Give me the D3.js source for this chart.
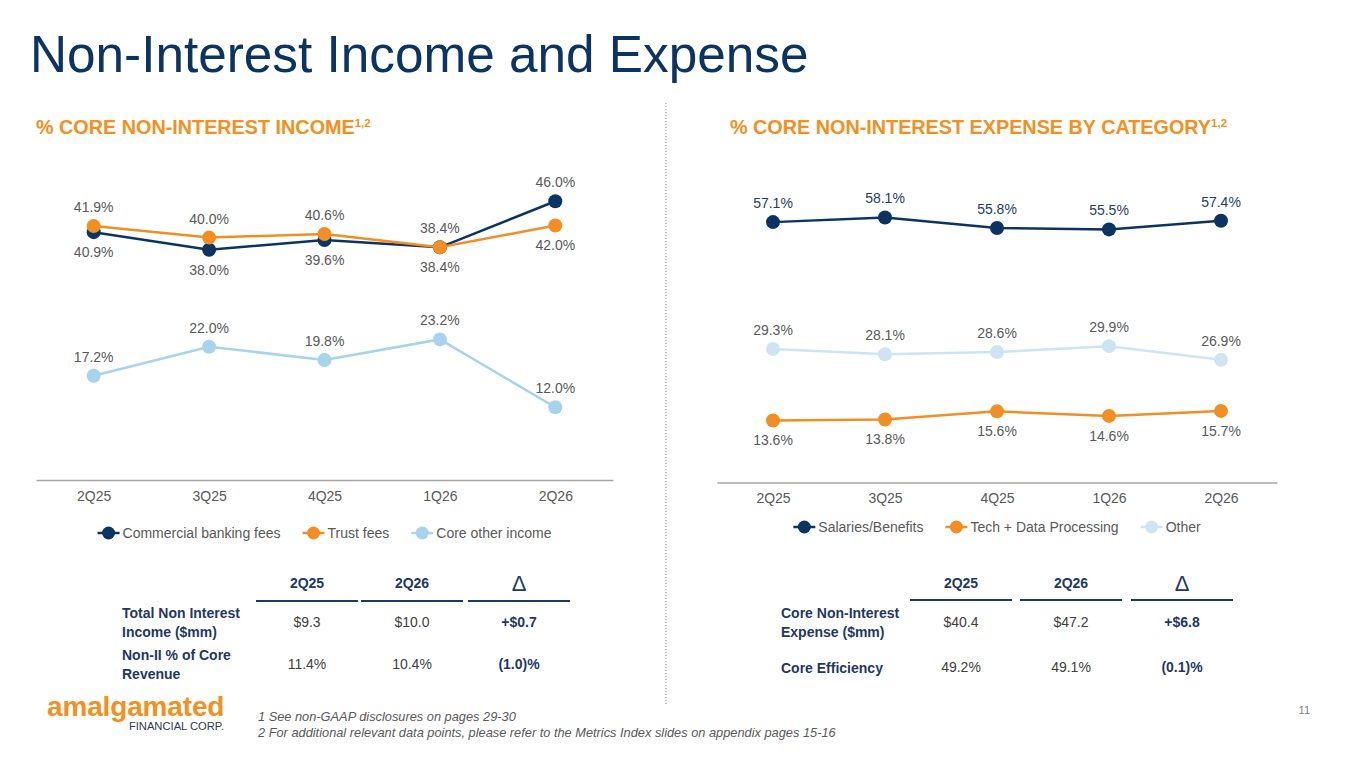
<!DOCTYPE html>
<html>
<head>
<meta charset="utf-8">
<script src="https://cdn.jsdelivr.net/npm/d3@7"></script>
<style>
  html, body { margin: 0; padding: 0; background: #fff; }
  svg { display: block; font-family: "Liberation Sans", Arial, sans-serif; }
</style>
</head>
<body>
<div id="chart"></div>
<script>
/* Non-interest income / expense slide, drawn with d3 */

var quarters = ['2Q25', '3Q25', '4Q25', '1Q26', '2Q26'];

// % core non-interest income
var commercialFees = [40.9, 38.0, 39.6, 38.4, 46.0];
var trustFees = [41.9, 40.0, 40.6, 38.4, 42.0];
var coreOtherIncome = [17.2, 22.0, 19.8, 23.2, 12.0];

// % core non-interest expense by category
var salariesBenefits = [57.1, 58.1, 55.8, 55.5, 57.4];
var techDataProcessing = [13.6, 13.8, 15.6, 14.6, 15.7];
var otherExpense = [29.3, 28.1, 28.6, 29.9, 26.9];

// summary tables
var tableColumns = ['2Q25', '2Q26', '\u0394'];
var incomeRowLabels = [['Total Non Interest', 'Income ($mm)'], ['Non-II % of Core', 'Revenue']];
var incomeRowValues = [['$9.3', '$10.0', '+$0.7'], ['11.4%', '10.4%', '(1.0)%']];
var expenseRowLabels = [['Core Non-Interest', 'Expense ($mm)'], ['Core Efficiency']];
var expenseRowValues = [['$40.4', '$47.2', '+$6.8'], ['49.2%', '49.1%', '(0.1)%']];

var footnotes = [
  '1 See non-GAAP disclosures on pages 29-30',
  '2 For additional relevant data points, please refer to the Metrics Index slides on appendix pages 15-16'
];

var NAVY = '#0b3463';
var ORANGE = '#f39020';
var GREY = '#595959';
var TABLE_NAVY = '#1f3864';

var width = 1365;
var height = 768;

var svg = d3.select('#chart').append('svg')
  .attr('width', width)
  .attr('height', height);

svg.append('text')
  .attr('x', 30)
  .attr('y', 72)
  .attr('font-size', 51.3)
  .attr('fill', NAVY)
  .text('Non-Interest Income and Expense');

function subtitle(x, label) {
  var t = svg.append('text')
    .attr('x', x)
    .attr('y', 134)
    .attr('font-size', 19.8)
    .attr('font-weight', 'bold')
    .attr('fill', ORANGE);
  t.append('tspan').text(label);
  t.append('tspan').attr('font-size', 11.5).attr('dy', -7).text('1,2');
}
subtitle(36, '% CORE NON-INTEREST INCOME');
subtitle(730, '% CORE NON-INTEREST EXPENSE BY CATEGORY');

// dotted divider between the two halves
svg.append('line')
  .attr('x1', 666).attr('x2', 666)
  .attr('y1', 103).attr('y2', 705)
  .attr('stroke', '#8c8c8c')
  .attr('stroke-width', 1)
  .attr('stroke-dasharray', '1,2');

function drawLineChart(cfg) {
  var x = d3.scalePoint()
    .domain(quarters)
    .range([cfg.left, cfg.right])
    .padding(0.5);
  var y = d3.scaleLinear()
    .domain([0, cfg.yMax])
    .range([cfg.base, cfg.top]);

  var axis = svg.append('g')
    .attr('transform', 'translate(0,' + cfg.base + ')')
    .call(d3.axisBottom(x).tickSize(0).tickSizeOuter(0).tickPadding(11));
  axis.select('.domain').attr('stroke', '#a6a6a6').attr('stroke-width', 1.3);
  axis.selectAll('text')
    .attr('font-size', 14)
    .attr('font-family', '"Liberation Sans", Arial, sans-serif')
    .attr('fill', GREY);

  var line = d3.line()
    .x(function(d, i) { return x(quarters[i]); })
    .y(function(d) { return y(d); });

  cfg.series.forEach(function(s) {
    var g = svg.append('g');
    g.append('path')
      .attr('d', line(s.values))
      .attr('fill', 'none')
      .attr('stroke', s.color)
      .attr('stroke-width', 2.5);
    g.selectAll('circle').data(s.values).enter()
      .append('circle')
      .attr('cx', function(d, i) { return x(quarters[i]); })
      .attr('cy', function(d) { return y(d); })
      .attr('r', 7)
      .attr('fill', s.color);
    g.selectAll('text').data(s.values).enter()
      .append('text')
      .attr('x', function(d, i) { return x(quarters[i]); })
      .attr('y', function(d, i) {
        var above = s.labelPos[i] === 'a';
        return y(d) + (above ? -19 : 20);
      })
      .attr('dy', '0.35em')
      .attr('text-anchor', 'middle')
      .attr('font-size', 14)
      .attr('fill', s.labelColor || GREY)
      .text(function(d) { return d.toFixed(1) + '%'; });
  });

  // legend: line + dot marker, centred under the chart
  var legend = svg.append('g');
  var cursor = 0;
  cfg.series.forEach(function(s, i) {
    var item = legend.append('g').attr('transform', 'translate(' + cursor + ',0)');
    item.append('line')
      .attr('x1', 0).attr('x2', 22)
      .attr('stroke', s.color)
      .attr('stroke-width', 2.5);
    item.append('circle').attr('cx', 11).attr('r', 6.5).attr('fill', s.color);
    var t = item.append('text')
      .attr('x', 25)
      .attr('dy', '0.35em')
      .attr('font-size', 14)
      .attr('fill', GREY)
      .text(s.name);
    cursor += 25 + t.node().getComputedTextLength() + 22;
  });
  cursor -= 22;
  legend.attr('transform', 'translate(' + ((cfg.left + cfg.right) / 2 - cursor / 2) + ',' + cfg.legendY + ')');
}

drawLineChart({
  left: 36, right: 613, base: 480, top: 177, yMax: 50, legendY: 533,
  series: [
    { name: 'Commercial banking fees', values: commercialFees, color: NAVY,
      labelPos: ['b', 'b', 'b', 'b', 'a'] },
    { name: 'Trust fees', values: trustFees, color: '#f28e24',
      labelPos: ['a', 'a', 'a', 'a', 'b'] },
    { name: 'Core other income', values: coreOtherIncome, color: '#a7d3ec',
      labelPos: ['a', 'a', 'a', 'a', 'a'] }
  ]
});

drawLineChart({
  left: 717, right: 1277, base: 482.5, top: 163.3, yMax: 70, legendY: 527,
  series: [
    { name: 'Salaries/Benefits', values: salariesBenefits, color: NAVY,
      labelColor: '#263d5c', labelPos: ['a', 'a', 'a', 'a', 'a'] },
    { name: 'Tech + Data Processing', values: techDataProcessing, color: '#f28e24',
      labelPos: ['b', 'b', 'b', 'b', 'b'] },
    { name: 'Other', values: otherExpense, color: '#cde5f3',
      labelPos: ['a', 'a', 'a', 'a', 'a'] }
  ]
});

function drawTable(cfg) {
  var g = svg.append('g');
  g.selectAll('.hdr').data(tableColumns).enter()
    .append('text')
    .attr('x', function(d, i) { return cfg.colX[i]; })
    .attr('y', 583)
    .attr('dy', '0.35em')
    .attr('text-anchor', 'middle')
    .attr('font-size', function(d, i) { return i === 2 ? 22 : 14; })
    .attr('font-weight', function(d, i) { return i === 2 ? 'normal' : 'bold'; })
    .attr('fill', TABLE_NAVY)
    .text(function(d) { return d; });
  cfg.colX.forEach(function(cx) {
    g.append('line')
      .attr('x1', cx - cfg.lineHalf).attr('x2', cx + cfg.lineHalf)
      .attr('y1', cfg.lineY).attr('y2', cfg.lineY)
      .attr('stroke', TABLE_NAVY)
      .attr('stroke-width', 2);
  });
  cfg.labels.forEach(function(lines, r) {
    var rowY = cfg.rowY[r];
    var top = rowY - (lines.length - 1) * 9.5;
    lines.forEach(function(l, k) {
      g.append('text')
        .attr('x', cfg.labelX)
        .attr('y', top + k * 19)
        .attr('dy', '0.35em')
        .attr('font-size', 14)
        .attr('font-weight', 'bold')
        .attr('fill', TABLE_NAVY)
        .text(l);
    });
    cfg.values[r].forEach(function(v, c) {
      g.append('text')
        .attr('x', cfg.colX[c])
        .attr('y', rowY - 1)
        .attr('dy', '0.35em')
        .attr('text-anchor', 'middle')
        .attr('font-size', 14)
        .attr('font-weight', c === 2 ? 'bold' : 'normal')
        .attr('fill', c === 2 ? TABLE_NAVY : '#404040')
        .text(v);
    });
  });
}

drawTable({
  labelX: 122, colX: [307, 412, 519], lineHalf: 51, lineY: 601,
  rowY: [623, 665], labels: incomeRowLabels, values: incomeRowValues
});
drawTable({
  labelX: 781, colX: [961, 1071, 1182], lineHalf: 51, lineY: 600,
  rowY: [623, 668], labels: expenseRowLabels, values: expenseRowValues
});

// logo
svg.append('text')
  .attr('x', 47)
  .attr('y', 716)
  .attr('font-size', 28)
  .attr('font-weight', 'bold')
  .attr('letter-spacing', -0.15)
  .attr('fill', ORANGE)
  .text('amalgamated');
svg.append('text')
  .attr('x', 224)
  .attr('y', 730)
  .attr('text-anchor', 'end')
  .attr('font-size', 11.2)
  .attr('fill', '#2e3b4e')
  .text('FINANCIAL CORP.');

svg.selectAll('.foot').data(footnotes).enter()
  .append('text')
  .attr('x', 258)
  .attr('y', function(d, i) { return 721 + i * 16; })
  .attr('font-size', 12.8)
  .attr('font-style', 'italic')
  .attr('fill', GREY)
  .text(function(d) { return d; });

svg.append('text')
  .attr('x', 1310)
  .attr('y', 714)
  .attr('text-anchor', 'end')
  .attr('font-size', 11)
  .attr('fill', '#7f7f7f')
  .text('11');
</script>
</body>
</html>
